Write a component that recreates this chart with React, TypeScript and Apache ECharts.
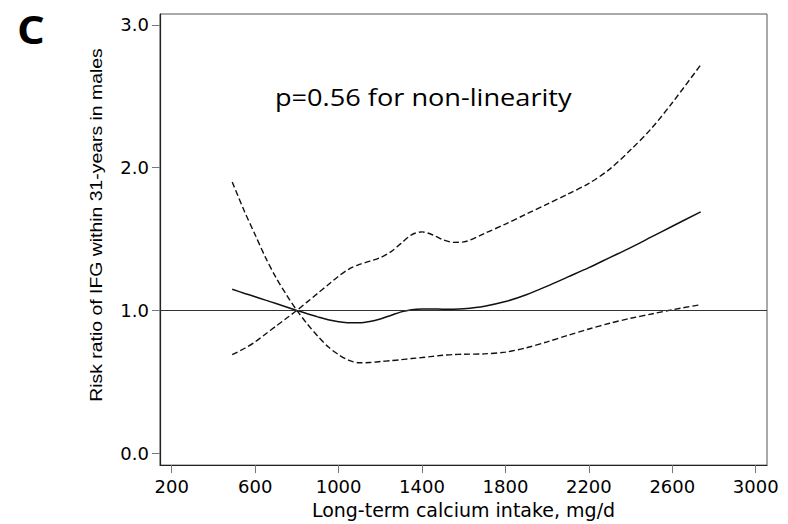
import React, { useEffect, useRef } from "react";
import * as echarts from "echarts";

const calciumIntake = [490, 550, 600, 650, 700, 750, 800, 850, 900, 950, 1000, 1050, 1100, 1150, 1200, 1250, 1300, 1350, 1400, 1450, 1500, 1550, 1600, 1700, 1800, 1900, 2000, 2100, 2200, 2300, 2400, 2500, 2600, 2736];
const riskRatio = [1.148, 1.119, 1.096, 1.072, 1.048, 1.024, 1.0, 0.977, 0.955, 0.935, 0.921, 0.913, 0.913, 0.922, 0.94, 0.965, 0.99, 1.005, 1.01, 1.01, 1.009, 1.009, 1.012, 1.03, 1.062, 1.11, 1.17, 1.235, 1.3, 1.37, 1.44, 1.515, 1.59, 1.69];
const bandFalling = [1.9, 1.69, 1.53, 1.37, 1.23, 1.11, 1.0, 0.905, 0.82, 0.745, 0.69, 0.65, 0.633, 0.635, 0.642, 0.648, 0.655, 0.663, 0.67, 0.678, 0.686, 0.691, 0.693, 0.696, 0.708, 0.738, 0.78, 0.826, 0.87, 0.91, 0.945, 0.975, 1.005, 1.04];
const bandRising = [0.69, 0.735, 0.78, 0.835, 0.89, 0.945, 1.0, 1.06, 1.12, 1.18, 1.24, 1.29, 1.322, 1.345, 1.37, 1.41, 1.47, 1.53, 1.55, 1.53, 1.495, 1.477, 1.48, 1.54, 1.605, 1.675, 1.745, 1.815, 1.89, 1.99, 2.125, 2.275, 2.455, 2.72];
const xTicks = [200, 600, 1000, 1400, 1800, 2200, 2600, 3000];
const yTicks = [0, 1, 2, 3];
const referenceLevel = 1;

const pairs = (ys: number[]) => calciumIntake.map((x, i) => [x, ys[i]]);

export default function App() {
  const ref = useRef<HTMLDivElement>(null);
  useEffect(() => {
    if (!ref.current) return;
    const chart = echarts.init(ref.current, null, { renderer: "svg" });
    const labelFont = "DejaVu Sans";
    chart.setOption({
      animation: false,
      backgroundColor: "#ffffff",
      grid: {
        left: 160,
        top: 14,
        right: 21,
        bottom: 56,
        show: true,
        borderColor: "#555",
        borderWidth: 1,
      },
      xAxis: {
        type: "value",
        min: 143.8,
        max: 3054,
        name: "Long-term calcium intake, mg/d",
        nameLocation: "middle",
        nameGap: 30,
        nameTextStyle: { fontFamily: labelFont, fontSize: 19, color: "#000" },
        splitLine: { show: false },
        axisLine: { show: true, onZero: false, lineStyle: { color: "#222", width: 1.2 } },
        axisTick: { show: true, length: 8, customValues: xTicks, lineStyle: { color: "#777" } },
        axisLabel: {
          customValues: xTicks,
          margin: 12,
          fontFamily: labelFont,
          fontSize: 18,
          color: "#000",
          formatter: (v: number) => String(Math.round(v)),
        },
      },
      yAxis: {
        type: "value",
        min: -0.0835,
        max: 3.0766,
        splitLine: { show: false },
        axisLine: { show: true, onZero: false, lineStyle: { color: "#222", width: 1.2 } },
        axisTick: { show: true, length: 8, customValues: yTicks, lineStyle: { color: "#777" } },
        axisLabel: {
          customValues: yTicks,
          margin: 11,
          fontFamily: labelFont,
          fontSize: 18,
          color: "#000",
          formatter: (v: number) => v.toFixed(1),
        },
      },
      series: [
        {
          type: "line",
          data: pairs(riskRatio),
          smooth: 0.3,
          showSymbol: false,
          lineStyle: { color: "#111", width: 1.5 },
          markLine: {
            silent: true,
            symbol: ["none", "none"],
            label: { show: false },
            lineStyle: { color: "#333", width: 1, type: "solid" },
            data: [{ yAxis: referenceLevel }],
          },
        },
        {
          type: "line",
          data: pairs(bandFalling),
          smooth: 0.3,
          showSymbol: false,
          lineStyle: { color: "#111", width: 1.4, type: [6, 3] },
        },
        {
          type: "line",
          data: pairs(bandRising),
          smooth: 0.3,
          showSymbol: false,
          lineStyle: { color: "#111", width: 1.4, type: [6, 3] },
        },
      ],
      graphic: [
        {
          type: "text",
          x: 17,
          y: 9,
          scaleX: 1.12,
          style: { text: "C", font: "bold 39px 'Open Sans'", fill: "#000", textAlign: "left", textVerticalAlign: "top" },
        },
        {
          type: "text",
          x: 97,
          y: 225,
          rotation: Math.PI / 2,
          scaleY: 0.85,
          style: {
            text: "Risk ratio of IFG within 31-years in males",
            font: "19.4px 'Liberation Sans'",
            fill: "#000",
            textAlign: "center",
            textVerticalAlign: "middle",
          },
        },
        {
          type: "text",
          x: 275,
          y: 97,
          scaleX: 1.16,
          style: {
            text: "p=0.56 for non-linearity",
            font: "23.4px 'Open Sans'",
            fill: "#000",
            textAlign: "left",
            textVerticalAlign: "middle",
          },
        },
      ],
    });
    return () => chart.dispose();
  }, []);
  return <div ref={ref} style={{ position: "absolute", left: 0, top: 0, width: 788, height: 524 }} />;
}
